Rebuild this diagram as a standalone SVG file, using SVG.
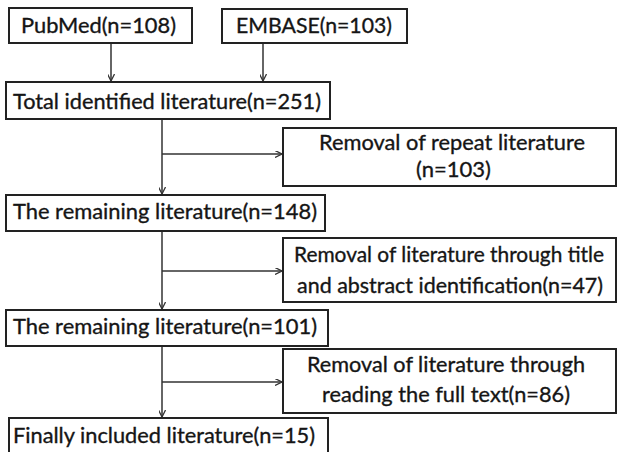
<svg xmlns="http://www.w3.org/2000/svg" width="617" height="452" viewBox="0 0 617 452">
<style>
.box{fill:#fff;stroke:#222;stroke-width:2}
.t{font-family:Lato,"Open Sans","Liberation Sans",sans-serif;font-size:22px;fill:#151515;stroke:#151515;stroke-width:0.35}
.c{fill:none;stroke:#333;stroke-width:1.5}
</style>
<defs>
<marker id="ah" viewBox="0 0 10 10" refX="10" refY="5" markerWidth="7" markerHeight="7" markerUnits="userSpaceOnUse" orient="auto">
<path d="M0,0 L10,5 L0,10" fill="none" stroke="#333" stroke-width="1.8"/>
</marker>
</defs>
<rect width="617" height="452" fill="#fff"/>
<g id="connectors">
<line class="c" x1="111" y1="43" x2="111" y2="81" marker-end="url(#ah)"/>
<line class="c" x1="263" y1="43" x2="263" y2="81" marker-end="url(#ah)"/>
<line class="c" x1="162" y1="119" x2="162" y2="194" marker-end="url(#ah)"/>
<line class="c" x1="162" y1="154" x2="282" y2="154" marker-end="url(#ah)"/>
<line class="c" x1="162" y1="231" x2="162" y2="309" marker-end="url(#ah)"/>
<line class="c" x1="162" y1="271" x2="282" y2="271" marker-end="url(#ah)"/>
<line class="c" x1="162" y1="346" x2="162" y2="417" marker-end="url(#ah)"/>
<line class="c" x1="162" y1="382" x2="282" y2="382" marker-end="url(#ah)"/>
</g>
<g id="pubmed">
<rect class="box" x="9" y="8" width="183" height="35"/>
<text class="t" x="21" y="33" textLength="155" lengthAdjust="spacingAndGlyphs">PubMed(n=108)</text>
</g>
<g id="embase">
<rect class="box" x="222" y="9" width="185" height="34"/>
<text class="t" x="236" y="33" textLength="156" lengthAdjust="spacingAndGlyphs">EMBASE(n=103)</text>
</g>
<g id="total">
<rect class="box" x="6" y="82" width="324" height="37"/>
<text class="t" x="13" y="109" textLength="308" lengthAdjust="spacingAndGlyphs">Total identified literature(n=251)</text>
</g>
<g id="repeat">
<rect class="box" x="283" y="128" width="333" height="58"/>
<text class="t" x="319" y="150" textLength="266" lengthAdjust="spacingAndGlyphs">Removal of repeat literature</text>
<text class="t" x="416" y="177" textLength="75" lengthAdjust="spacingAndGlyphs">(n=103)</text>
</g>
<g id="remaining148">
<rect class="box" x="6" y="195" width="319" height="36"/>
<text class="t" x="13" y="219" textLength="304" lengthAdjust="spacingAndGlyphs">The remaining literature(n=148)</text>
</g>
<g id="title-abstract">
<rect class="box" x="283" y="238" width="333" height="64"/>
<text class="t" x="294" y="262" textLength="310" lengthAdjust="spacingAndGlyphs">Removal of literature through title</text>
<text class="t" x="297" y="293" textLength="306" lengthAdjust="spacingAndGlyphs">and abstract identification(n=47)</text>
</g>
<g id="remaining101">
<rect class="box" x="6" y="310" width="322" height="36"/>
<text class="t" x="13" y="334" textLength="304" lengthAdjust="spacingAndGlyphs">The remaining literature(n=101)</text>
</g>
<g id="fulltext">
<rect class="box" x="283" y="349" width="333" height="64"/>
<text class="t" x="307" y="372" textLength="278" lengthAdjust="spacingAndGlyphs">Removal of literature through</text>
<text class="t" x="322" y="402" textLength="248" lengthAdjust="spacingAndGlyphs">reading the full text(n=86)</text>
</g>
<g id="final">
<rect class="box" x="9" y="418" width="319" height="50"/>
<text class="t" x="13" y="443" textLength="302" lengthAdjust="spacingAndGlyphs">Finally included literature(n=15)</text>
</g>
</svg>
